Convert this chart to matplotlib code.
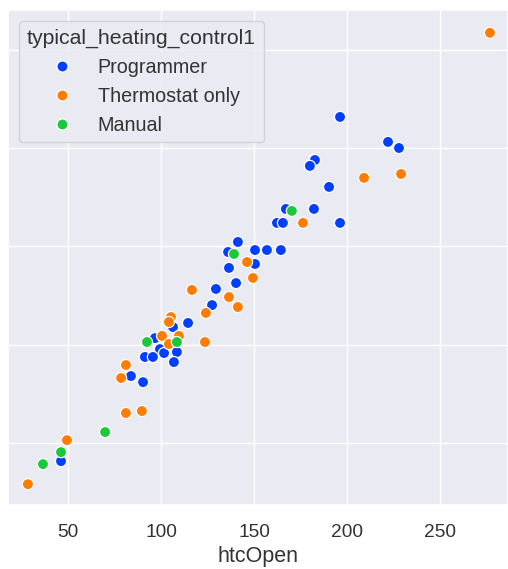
import numpy as np
import pandas as pd
import matplotlib
matplotlib.use("Agg")
import matplotlib.pyplot as plt
import seaborn as sns

# htcOpen / y values per heating-control group
prog_x = [196.1, 221.9, 227.8, 182.6, 179.9, 190.2, 167.0, 182.1, 162.2, 165.4, 196.1,
          141.2, 135.9, 150.4, 156.8, 164.3, 150.4, 136.4, 140.2, 129.4, 127.3, 114.4,
          106.3, 96.6, 99.3, 101.5, 108.4, 91.2, 95.5, 106.8, 83.7, 90.2, 46.1]
prog_y = [215.9, 203.2, 200.1, 194.0, 191.0, 180.3, 169.1, 169.1, 162.0, 162.0, 162.0,
          152.3, 147.2, 148.2, 148.2, 148.2, 141.1, 139.1, 131.4, 128.4, 120.2, 111.1,
          109.0, 103.4, 97.8, 95.8, 96.3, 93.8, 93.8, 91.2, 84.1, 81.0, 40.8]

thermo_x = [276.7, 209.0, 228.9, 176.2, 146.1, 149.3, 116.5, 136.4, 141.2, 124.0, 105.2,
            104.1, 109.5, 100.4, 104.1, 123.5, 81.0, 78.4, 81.0, 89.6, 49.3, 28.3]
thermo_y = [258.7, 184.9, 186.9, 162.0, 142.1, 134.0, 127.9, 124.3, 119.2, 116.2, 114.1,
            111.6, 104.5, 104.5, 100.4, 101.4, 89.7, 83.1, 65.3, 66.3, 51.5, 29.1]

manual_x = [170.2, 139.1, 92.3, 108.4, 69.8, 46.1, 36.4]
manual_y = [168.1, 146.2, 101.4, 101.4, 55.6, 45.4, 39.3]

groups = ["Programmer", "Thermostat only", "Manual"]

df = pd.concat([
    pd.DataFrame({"htcOpen": prog_x, "y": prog_y, "typical_heating_control1": groups[0]}),
    pd.DataFrame({"htcOpen": thermo_x, "y": thermo_y, "typical_heating_control1": groups[1]}),
    pd.DataFrame({"htcOpen": manual_x, "y": manual_y, "typical_heating_control1": groups[2]}),
], ignore_index=True)

sns.set_theme(style="darkgrid")
plt.rcParams["font.family"] = ["Liberation Sans", "DejaVu Sans"]

fig = plt.figure(figsize=(5.08, 5.69), dpi=100)
ax = fig.add_axes([8 / 508, 64 / 569, 500 / 508, 495 / 569])

sns.scatterplot(data=df, x="htcOpen", y="y", hue="typical_heating_control1",
                hue_order=groups, palette="bright", s=64, linewidth=0.9,
                edgecolor="white", ax=ax)

ax.set_xlim(17.6, 286.4)
ax.set_ylim(18.5, 270.3)
ax.set_xticks([50, 100, 150, 200, 250])
ax.set_yticks([50, 100, 150, 200, 250])
ax.tick_params(axis="x", labelsize=13.8, colors="#333333", pad=8)
ax.tick_params(axis="y", labelleft=False)
ax.set_xlabel("htcOpen", fontsize=15.5, color="#333333", labelpad=3)
ax.set_ylabel("")

leg = ax.legend(title="typical_heating_control1", loc="upper left",
                fontsize=14.2, title_fontsize=15.3, borderaxespad=0.55)
for t in leg.get_texts():
    t.set_color("#333333")
leg.get_title().set_color("#333333")

fig.savefig("out.png", dpi=100)
